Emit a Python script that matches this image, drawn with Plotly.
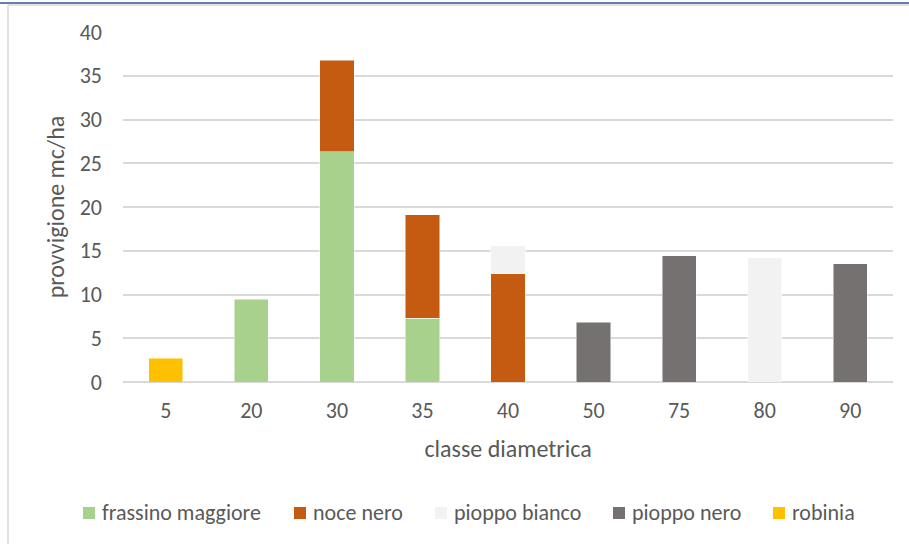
import plotly.graph_objects as go

# diameter classes (cm) and standing volume per species (mc/ha)
classi = ["5", "20", "30", "35", "40", "50", "75", "80", "90"]
frassino_maggiore = [None, 9.45, 26.3, 7.3, None, None, None, None, None]
noce_nero = [None, None, 10.5, 11.8, 12.4, None, None, None, None]
pioppo_bianco = [None, None, None, None, 3.15, None, None, 14.2, None]
pioppo_nero = [None, None, None, None, None, 6.85, 14.45, None, 13.5]
robinia = [2.7, None, None, None, None, None, None, None, None]

specie = ["frassino maggiore", "noce nero", "pioppo bianco", "pioppo nero", "robinia"]
valori_specie = [frassino_maggiore, noce_nero, pioppo_bianco, pioppo_nero, robinia]
colori = ["#A9D18E", "#C55A11", "#F2F2F2", "#767171", "#FFC000"]

W, H = 909, 544
ML, MR, MT, MB = 123, 16, 32, 162
PW, PH = W - ML - MR, H - MT - MB


def px_x(x):
    return (x - ML) / PW


def px_y(y):
    return (H - MB - y) / PH


FONT = "Carlito, Calibri, Lato, sans-serif"
TXT = "#595959"

fig = go.Figure()
for nome, valori, colore in zip(specie, valori_specie, colori):
    fig.add_trace(go.Bar(
        x=classi, y=valori, name=nome,
        marker=dict(color=colore, line=dict(color="rgba(255,255,255,0.6)", width=0.8)),
    ))

# legend row below the chart: swatch + label, laid out left to right
LEG_X = [83, 294, 435, 613, 773]
LEG_Y = 513
SW = 12
shapes = [
    dict(type="line", xref="paper", yref="paper", x0=px_x(0), x1=px_x(W),
         y0=px_y(3), y1=px_y(3), line=dict(color="#2F5597", width=1.5)),
    dict(type="line", xref="paper", yref="paper", x0=px_x(8), x1=px_x(W),
         y0=px_y(5), y1=px_y(5), line=dict(color="#D9D9D9", width=1.5)),
    dict(type="line", xref="paper", yref="paper", x0=px_x(8), x1=px_x(8),
         y0=px_y(5), y1=px_y(H), line=dict(color="#D9D9D9", width=1.5)),
]
annotations = []
for lx, nome, colore in zip(LEG_X, specie, colori):
    shapes.append(dict(
        type="rect", xref="paper", yref="paper",
        x0=px_x(lx), x1=px_x(lx + SW), y0=px_y(LEG_Y - SW / 2), y1=px_y(LEG_Y + SW / 2),
        fillcolor=colore, line=dict(width=0),
    ))
    annotations.append(dict(
        text=nome, xref="paper", yref="paper", x=px_x(lx + SW + 5), y=px_y(LEG_Y - 1),
        xanchor="left", yanchor="middle", showarrow=False,
        font=dict(size=22, color=TXT, family=FONT),
    ))

fig.update_layout(
    width=W, height=H,
    barmode="stack", bargap=0.6,
    margin=dict(l=ML, r=MR, t=MT, b=MB, pad=0),
    paper_bgcolor="white", plot_bgcolor="white",
    font=dict(family=FONT, color=TXT, size=22),
    showlegend=False,
    xaxis=dict(
        type="category", title=dict(text="classe diametrica", font=dict(size=24), standoff=17),
        showgrid=False, showline=False, ticks="", tickfont=dict(size=22),
        ticklabelstandoff=13,
    ),
    yaxis=dict(
        range=[0, 40], dtick=5,
        title=dict(text="provvigione mc/ha", font=dict(size=24), standoff=8),
        showgrid=True, gridcolor="#D9D9D9", gridwidth=1.6,
        zeroline=True, zerolinecolor="#D9D9D9", zerolinewidth=1.6,
        ticks="", tickfont=dict(size=22), ticklabelstandoff=20,
    ),
    shapes=shapes,
    annotations=annotations,
)

fig.write_html("out.html")
